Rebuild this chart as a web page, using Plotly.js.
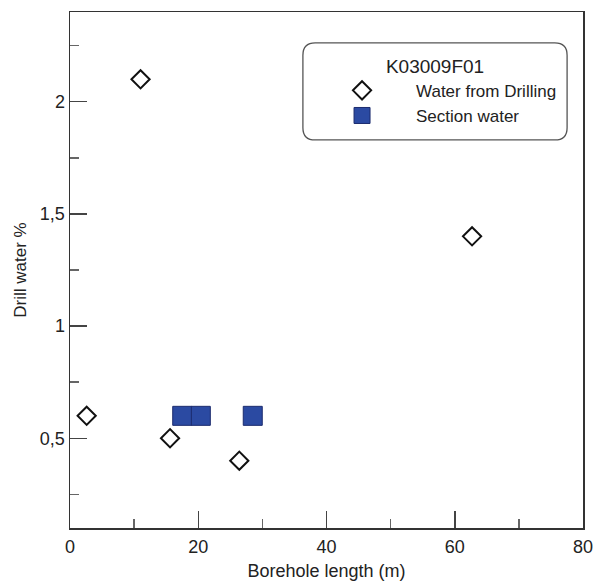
<!DOCTYPE html>
<html>
<head>
<meta charset="utf-8">
<script src="https://cdn.plot.ly/plotly-3.0.1.min.js"></script>
<style>html,body{margin:0;padding:0;background:#fff;}#chart{width:600px;height:584px;}</style>
</head>
<body>
<div id="chart"></div>
<script>
// Data
const drillX = [2.6, 11.0, 15.6, 26.4, 62.7];
const drillY = [0.6, 2.1, 0.5, 0.4, 1.4];
const sectionX = [17.5, 20.4, 28.5];
const sectionY = [0.6, 0.6, 0.6];
const legendTitle = "K03009F01";
const drillName = "Water from Drilling";
const sectionName = "Section water";

const font = "Liberation Sans, Arial, sans-serif";

const traces = [
  {
    x: drillX, y: drillY, type: "scatter", mode: "markers", name: drillName,
    marker: {symbol: "diamond-open", size: 14, color: "#111", line: {width: 2, color: "#111"}}
  },
  {
    x: sectionX, y: sectionY, type: "scatter", mode: "markers", name: sectionName,
    marker: {symbol: "square", size: 19, color: "#2b4aa2", line: {width: 1, color: "#1b2b6e"}}
  }
];

const r = 0.024;
const lx0 = 0.454, lx1 = 0.969, ly0 = 0.752, ly1 = 0.940;
const ry = r * 513 / 516;
const legendPath = `M ${lx0 + r},${ly1} L ${lx1 - r},${ly1} Q ${lx1},${ly1} ${lx1},${ly1 - ry} L ${lx1},${ly0 + ry} Q ${lx1},${ly0} ${lx1 - r},${ly0} L ${lx0 + r},${ly0} Q ${lx0},${ly0} ${lx0},${ly0 + ry} L ${lx0},${ly1 - ry} Q ${lx0},${ly1} ${lx0 + r},${ly1} Z`;

const layout = {
  width: 600, height: 584,
  margin: {l: 70, r: 17, t: 12, b: 56},
  paper_bgcolor: "#fff", plot_bgcolor: "#fff",
  separators: ", ",
  font: {family: font, size: 18, color: "#222"},
  showlegend: true,
  legend: {
    x: 0.464, y: 0.93, xanchor: "left", yanchor: "top",
    bgcolor: "rgba(0,0,0,0)", borderwidth: 0,
    font: {family: font, size: 17, color: "#222"},
    title: {text: legendTitle, side: "top center", font: {family: font, size: 19, color: "#222"}},
    itemwidth: 98, tracegroupgap: 0
  },
  xaxis: {
    range: [0, 80], dtick: 20, tick0: 0,
    ticks: "inside", ticklen: 17, tickwidth: 1.5, tickcolor: "#444",
    minor: {dtick: 10, ticks: "inside", ticklen: 9, tickwidth: 1.5, tickcolor: "#666"},
    showline: true, linecolor: "#333", linewidth: 1.5, mirror: true,
    showgrid: false, zeroline: false,
    ticklabelstandoff: 2,
    tickfont: {family: font, size: 18, color: "#222"},
    title: {text: "Borehole length (m)", font: {family: font, size: 18, color: "#222"}, standoff: 8}
  },
  yaxis: {
    range: [0.1, 2.4], dtick: 0.5, tick0: 0,
    ticks: "inside", ticklen: 17, tickwidth: 1.5, tickcolor: "#444",
    minor: {dtick: 0.25, tick0: 0, ticks: "inside", ticklen: 9, tickwidth: 1.5, tickcolor: "#666"},
    showline: true, linecolor: "#333", linewidth: 1.5, mirror: true,
    showgrid: false, zeroline: false,
    tickfont: {family: font, size: 18, color: "#222"},
    title: {text: "Drill water %", font: {family: font, size: 17, color: "#222"}, standoff: 9}
  },
  shapes: [
    {type: "path", xref: "paper", yref: "paper", path: legendPath,
     line: {color: "#555", width: 1.3}, fillcolor: "rgba(0,0,0,0)", layer: "below"}
  ]
};

Plotly.newPlot("chart", traces, layout, {displayModeBar: false, staticPlot: true});
</script>
</body>
</html>
